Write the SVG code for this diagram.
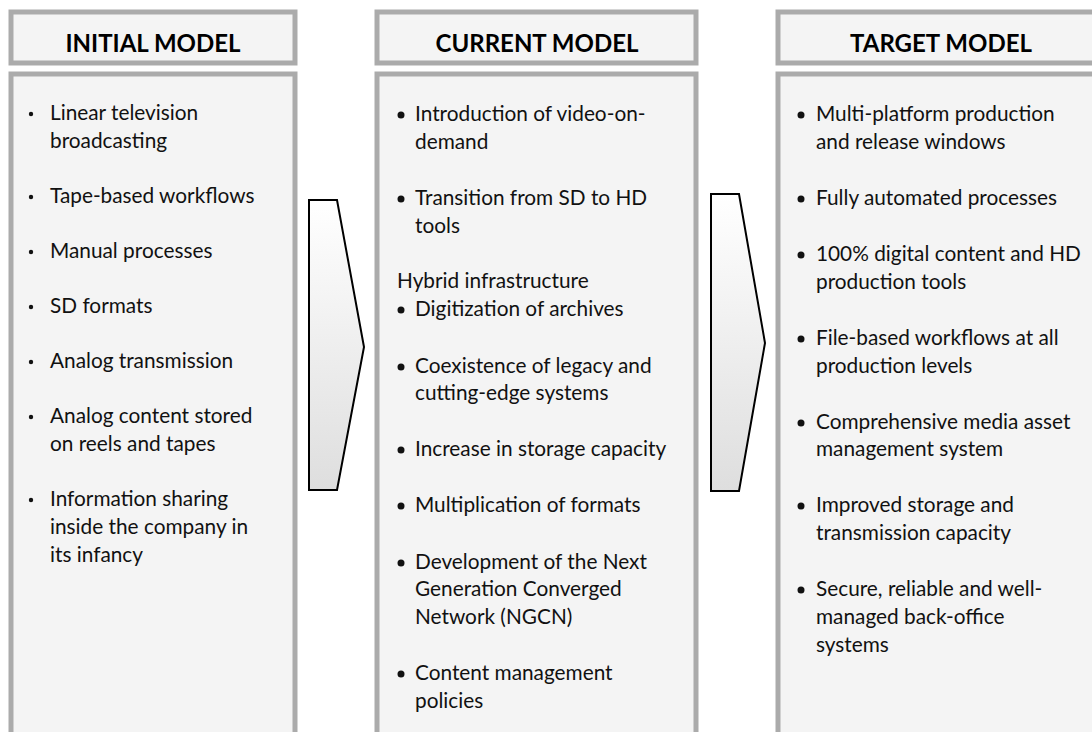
<svg xmlns="http://www.w3.org/2000/svg" width="1092" height="732" viewBox="0 0 1092 732">
  <defs>
    <linearGradient id="arrowFill" x1="0" y1="0" x2="0" y2="1">
      <stop offset="0" stop-color="#ffffff"/>
      <stop offset="1" stop-color="#dedede"/>
    </linearGradient>
  </defs>
  <style>
    .box { fill: #f4f4f4; stroke: #ababab; stroke-width: 5; }
    .head { font-family: Lato, "Liberation Sans", sans-serif; font-weight: bold; font-size: 24px; fill: #000; text-anchor: middle; }
    .item { font-family: Lato, "Liberation Sans", sans-serif; font-size: 20.8px; fill: #111; }
    .dot { fill: #111; }
    .arrow { fill: url(#arrowFill); stroke: #000; stroke-width: 2; stroke-linejoin: miter; }
  </style>
  <rect width="1092" height="732" fill="#ffffff"/>

  <!-- Column 1 -->
  <g id="initial-model">
    <rect class="box" x="11" y="12" width="284" height="51"/>
    <text class="head" x="153" y="52">INITIAL MODEL</text>
    <rect class="box" x="11" y="74" width="284" height="680"/>
    <g class="dot">
      <circle cx="31" cy="114" r="2.2"/>
      <circle cx="31" cy="197" r="2.2"/>
      <circle cx="31" cy="252" r="2.2"/>
      <circle cx="31" cy="307" r="2.2"/>
      <circle cx="31" cy="362" r="2.2"/>
      <circle cx="31" cy="417" r="2.2"/>
      <circle cx="31" cy="500" r="2.2"/>
    </g>
    <g class="item">
      <text x="50" y="120">Linear television</text>
      <text x="50" y="148">broadcasting</text>
      <text x="50" y="203">Tape-based workflows</text>
      <text x="50" y="258">Manual processes</text>
      <text x="50" y="313">SD formats</text>
      <text x="50" y="368">Analog transmission</text>
      <text x="50" y="423">Analog content stored</text>
      <text x="50" y="451">on reels and tapes</text>
      <text x="50" y="506">Information sharing</text>
      <text x="50" y="534">inside the company in</text>
      <text x="50" y="562">its infancy</text>
    </g>
  </g>

  <!-- Column 2 -->
  <g id="current-model">
    <rect class="box" x="377" y="12" width="319" height="51"/>
    <text class="head" x="537" y="52">CURRENT MODEL</text>
    <rect class="box" x="377" y="74" width="319" height="680"/>
    <g class="dot">
      <circle cx="401" cy="115" r="3.5"/>
      <circle cx="401" cy="199" r="3.5"/>
      <circle cx="401" cy="310" r="3.5"/>
      <circle cx="401" cy="367" r="3.5"/>
      <circle cx="401" cy="450" r="3.5"/>
      <circle cx="401" cy="506" r="3.5"/>
      <circle cx="401" cy="563" r="3.5"/>
      <circle cx="401" cy="674" r="3.5"/>
    </g>
    <g class="item">
      <text x="415" y="121">Introduction of video-on-</text>
      <text x="415" y="149">demand</text>
      <text x="415" y="205">Transition from SD to HD</text>
      <text x="415" y="233">tools</text>
      <text x="397" y="288">Hybrid infrastructure</text>
      <text x="415" y="316">Digitization of archives</text>
      <text x="415" y="373">Coexistence of legacy and</text>
      <text x="415" y="400">cutting-edge systems</text>
      <text x="415" y="456">Increase in storage capacity</text>
      <text x="415" y="512">Multiplication of formats</text>
      <text x="415" y="569">Development of the Next</text>
      <text x="415" y="596">Generation Converged</text>
      <text x="415" y="624">Network (NGCN)</text>
      <text x="415" y="680">Content management</text>
      <text x="415" y="708">policies</text>
    </g>
  </g>

  <!-- Column 3 -->
  <g id="target-model">
    <rect class="box" x="778" y="12" width="328" height="51"/>
    <text class="head" x="941" y="52">TARGET MODEL</text>
    <rect class="box" x="778" y="74" width="328" height="680"/>
    <g class="dot">
      <circle cx="801" cy="115" r="3.5"/>
      <circle cx="801" cy="199" r="3.5"/>
      <circle cx="801" cy="255" r="3.5"/>
      <circle cx="801" cy="339" r="3.5"/>
      <circle cx="801" cy="423" r="3.5"/>
      <circle cx="801" cy="506" r="3.5"/>
      <circle cx="801" cy="590" r="3.5"/>
    </g>
    <g class="item">
      <text x="816" y="121">Multi-platform production</text>
      <text x="816" y="149">and release windows</text>
      <text x="816" y="205">Fully automated processes</text>
      <text x="816" y="261">100% digital content and HD</text>
      <text x="816" y="289">production tools</text>
      <text x="816" y="345">File-based workflows at all</text>
      <text x="816" y="373">production levels</text>
      <text x="816" y="429">Comprehensive media asset</text>
      <text x="816" y="456">management system</text>
      <text x="816" y="512">Improved storage and</text>
      <text x="816" y="540">transmission capacity</text>
      <text x="816" y="596">Secure, reliable and well-</text>
      <text x="816" y="624">managed back-office</text>
      <text x="816" y="652">systems</text>
    </g>
  </g>

  <!-- Transition arrows -->
  <g id="connectors">
    <polygon class="arrow" points="309,200 337,200 364,347 337,490 309,490"/>
    <polygon class="arrow" points="711,194 739,194 765,343 739,491 711,491"/>
  </g>
</svg>
